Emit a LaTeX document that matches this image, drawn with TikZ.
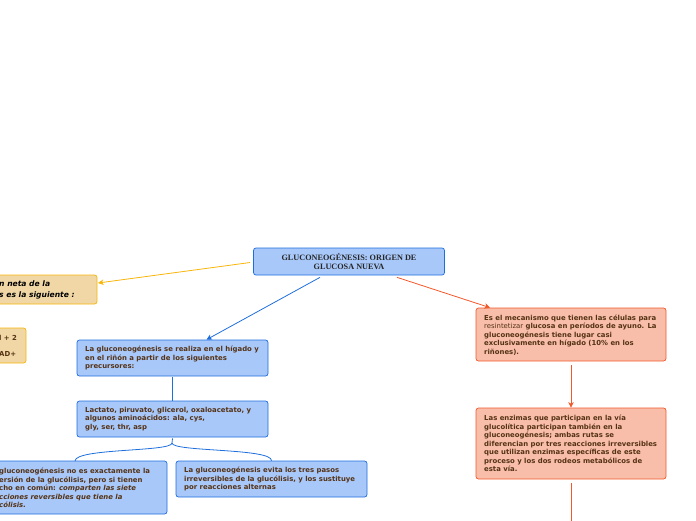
\documentclass[tikz,border=0pt]{standalone}
\usepackage{fontspec}
\setmainfont{DejaVu Sans}
\newfontfamily\titlefont{Liberation Serif}
\usetikzlibrary{arrows.meta}
\definecolor{bfill}{RGB}{168,200,250}
\definecolor{bline}{RGB}{30,110,220}
\definecolor{ofill}{RGB}{240,215,165}
\definecolor{oline}{RGB}{248,182,10}
\definecolor{rfill}{RGB}{248,190,170}
\definecolor{rline}{RGB}{242,88,42}
\definecolor{tbrown}{RGB}{85,50,20}
\tikzset{
  bbox/.style={draw=bline,fill=bfill,rounded corners=2.5pt,line width=0.7pt},
  obox/.style={draw=oline,fill=ofill,rounded corners=2.5pt,line width=0.7pt},
  rbox/.style={draw=rline,fill=rfill,rounded corners=2.5pt,line width=0.7pt},
  txt/.style={inner sep=0pt,align=left,anchor=west,text=tbrown,font=\fontsize{6.9}{8.5}\selectfont\bfseries},
  bconn/.style={draw=bline,line width=0.8pt},
  rconn/.style={draw=rline,line width=0.8pt},
  oconn/.style={draw=oline,line width=0.8pt},
  tip/.style={-{Stealth[length=5.5pt,width=5.5pt,inset=1.5pt]}}
}
\begin{document}
\begin{tikzpicture}[x=1pt,y=-1pt]
\useasboundingbox (0,0) rectangle (696,520);
% title
\node[bbox,minimum width=191pt,minimum height=27pt,inner sep=0pt,align=center,
  font=\titlefont\fontsize{8.2}{9}\selectfont\bfseries,text=black!85] (title) at (349,261.5)
  {GLUCONEOGÉNESIS: ORIGEN DE\\GLUCOSA NUEVA};
% left orange box (cut)
\draw[obox] (-20,275) rectangle (97,304);
\node[anchor=west,inner sep=0pt,align=left,font=\fontsize{7.6}{11}\selectfont\bfseries\itshape,text=black] (otxt) at (-1,290) {n neta de la\\s es la siguiente :};
\coordinate (oin) at (98,283);
% second orange box (cut)
\draw[obox] (-20,328) rectangle (26,363);
\node[txt] (o2txt) at (-1,346) {l + 2\\[7pt]AD+};
% blue boxes
\node[bbox,minimum width=191pt,minimum height=36pt,inner sep=0pt] (b1) at (172.5,358) {};
\node[txt] at (85,358) {La gluconeogénesis se realiza en el hígado y\\en el riñón a partir de los siguientes\\precursores:};
\node[bbox,minimum width=191pt,minimum height=36pt,inner sep=0pt] (b2) at (172.5,419) {};
\node[txt] at (85,419) {Lactato, piruvato, glicerol, oxaloacetato, y\\algunos aminoácidos: ala, cys,\\gly, ser, thr, asp};
\draw[bbox] (-20,461) rectangle (167,514);
\node[txt] (b3t) at (-1,488) {gluconeogénesis no es exactamente la\\ersión de la glucólisis, pero si tienen\\cho en común: \textit{comparten las siete}\\\textit{cciones reversibles que tiene la}\\\textit{cólisis.}};
\coordinate (b3in) at (75,461);
\node[bbox,minimum width=191pt,minimum height=36pt,inner sep=0pt] (b4) at (271.5,479) {};
\node[txt] at (184,479) {La gluconeogénesis evita los tres pasos\\irreversibles de la glucólisis, y los sustituye\\por reacciones alternas};
% red boxes
\node[rbox,minimum width=190pt,minimum height=53pt,inner sep=0pt] (r1) at (571,334.5) {};
\node[txt] at (484,335) {Es el mecanismo que tienen las células para\\{\mdseries resintetizar} glucosa en períodos de ayuno. La\\gluconeogénesis tiene lugar casi\\exclusivamente en hígado (10\% en los\\riñones).};
\node[rbox,minimum width=190pt,minimum height=71pt,inner sep=0pt] (r2) at (571,443.5) {};
\node[txt] at (484,443.5) {Las enzimas que participan en la vía\\glucolítica participan también en la\\gluconeogénesis; ambas rutas se\\diferencian por tres reacciones irreversibles\\que utilizan enzimas específicas de este\\proceso y los dos rodeos metabólicos de\\esta vía.};
\coordinate (rend) at (571,522);
\coordinate (fork) at (172,443);
% connectors
\draw[oconn,tip] ([xshift=-3pt,yshift=-1pt]title.west) -- (oin);
\draw[bconn,tip] ([xshift=-29pt,yshift=-2pt]title.south) -- ([xshift=34pt]b1.north);
\draw[rconn,tip] ([xshift=48pt,yshift=-2pt]title.south) -- ([xshift=-81pt]r1.north);
\draw[rconn,tip] ([yshift=-4pt]r1.south) -- (r2.north);
\draw[rconn] ([yshift=-4pt]r2.south) -- (rend);
\draw[bconn] ([yshift=-1pt]b1.south) -- (b2.north);
\draw[bconn] ([yshift=-1pt]b2.south) -- (fork);
\draw[bconn] (fork) .. controls (172,452) and (75,448) .. (b3in);
\draw[bconn] (fork) .. controls (172,452) and (272,448) .. (b4.north);
\end{tikzpicture}
\end{document}
